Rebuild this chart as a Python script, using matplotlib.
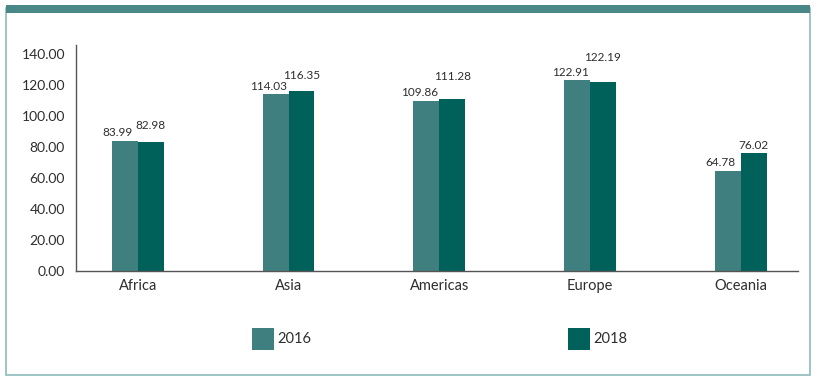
import numpy as np
import matplotlib.pyplot as plt
from matplotlib.patches import Rectangle

regions = ['Africa', 'Asia', 'Americas', 'Europe', 'Oceania']
vals_2016 = [83.99, 114.03, 109.86, 122.91, 64.78]
vals_2018 = [82.98, 116.35, 111.28, 122.19, 76.02]
yticks = [0, 20, 40, 60, 80, 100, 120, 140]

# how far the 2018 labels sit above their bars (points), as in the original
lift_2018 = [12.2, 10.8, 15.8, 17.3, 5.8]

c2016 = '#407f7f'
c2018 = '#00605a'
txt = '#2e2e2e'

plt.rcParams['font.family'] = ['Lato', 'DejaVu Sans']

fig = plt.figure(figsize=(8.2, 3.88), dpi=100)

# frame around the chart
fig.patches.append(Rectangle((6/820, 1-375/388), 804/820, 367/388, transform=fig.transFigure,
                             fill=False, edgecolor='#8dbaba', lw=1.2))
fig.patches.append(Rectangle((6/820, 1-13/388), 804/820, 8/388, transform=fig.transFigure,
                             facecolor='#4a8888', edgecolor='none'))

ax = fig.add_axes([76/820, 1-271/388, 722/820, 226/388])
x = np.arange(len(regions))
w = 0.172
ax.bar(x - w/2, vals_2016, w, color=c2016, label='2016')
ax.bar(x + w/2, vals_2018, w, color=c2018, label='2018')

for xi, v in zip(x, vals_2016):
    ax.annotate(f'{v:.2f}', (xi - w/2, v), xytext=(-5, 5.8), textcoords='offset points',
                ha='center', va='center', fontsize=8.5, color=txt)
for xi, v, d in zip(x, vals_2018, lift_2018):
    ax.annotate(f'{v:.2f}', (xi + w/2, v), xytext=(0, d), textcoords='offset points',
                ha='center', va='center', fontsize=8.5, color=txt)

ax.set_xlim(-0.41, 4.38)
ax.set_ylim(0, 145.8)
ax.set_yticks(yticks)
ax.set_yticklabels([f'{t:.2f}' for t in yticks], fontsize=10, color=txt)
ax.set_xticks(x)
ax.set_xticklabels(regions, fontsize=10.5, color=txt)
ax.tick_params(length=0, pad=8)
ax.tick_params(axis='x', pad=6)
for s in ['top', 'right']:
    ax.spines[s].set_visible(False)
for s in ['left', 'bottom']:
    ax.spines[s].set_color('#555555')
    ax.spines[s].set_linewidth(1)

# legend
fig.patches.append(Rectangle((252/820, 1-350/388), 22/820, 22/388, transform=fig.transFigure,
                             facecolor=c2016, edgecolor='none'))
fig.text(277/820, 1-339/388, '2016', fontsize=10.5, color=txt, va='center')
fig.patches.append(Rectangle((568/820, 1-350/388), 22/820, 22/388, transform=fig.transFigure,
                             facecolor=c2018, edgecolor='none'))
fig.text(593/820, 1-339/388, '2018', fontsize=10.5, color=txt, va='center')

fig.savefig('out.png', dpi=100)
